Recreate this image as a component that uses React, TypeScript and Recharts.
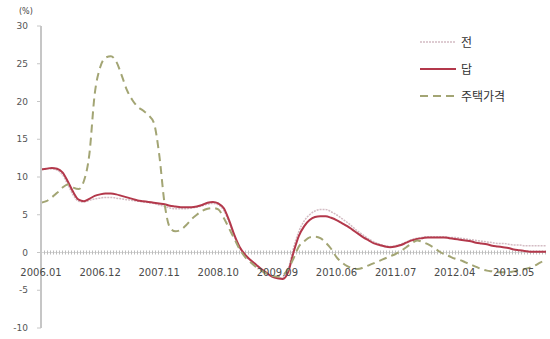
import { LineChart, Line, XAxis, YAxis, ReferenceLine } from 'recharts'

// monthly, 2006.01 .. 2013.11
const DRY_FIELD = [
  11.0, 11.1, 11.1, 10.9, 10.3, 9.0, 7.6, 6.8, 6.7, 6.9, 7.1, 7.2,
  7.3, 7.3, 7.2, 7.1, 7.0, 6.9, 6.8, 6.7, 6.6, 6.5, 6.3, 6.1,
  5.9, 5.8, 5.8, 5.8, 5.9, 6.0, 6.2, 6.4, 6.5, 6.3, 5.6, 4.0,
  2.1, 0.6, -0.4, -1.1, -1.7, -2.3, -2.8, -3.2, -3.4, -3.3, -2.2, 0.6,
  2.8, 4.2, 5.0, 5.5, 5.7, 5.7, 5.4, 5.0, 4.5, 4.0, 3.4, 2.8,
  2.3, 1.8, 1.4, 1.1, 0.9, 0.8, 0.9, 1.1, 1.4, 1.7, 1.9, 2.0,
  2.1, 2.1, 2.1, 2.1, 2.0, 2.0, 1.9, 1.8, 1.7, 1.6, 1.5, 1.4,
  1.3, 1.2, 1.2, 1.1, 1.0, 1.0, 0.9, 0.9, 0.9, 0.9, 0.9,
]

const PADDY = [
  11.0, 11.1, 11.2, 11.1, 10.6, 9.4, 8.0, 7.0, 6.8, 7.1, 7.5, 7.7,
  7.8, 7.8, 7.7, 7.5, 7.3, 7.1, 6.9, 6.8, 6.7, 6.6, 6.5, 6.4,
  6.2, 6.1, 6.0, 6.0, 6.0, 6.1, 6.3, 6.6, 6.7, 6.5, 5.9, 4.3,
  2.3, 0.7, -0.3, -1.0, -1.6, -2.2, -2.7, -3.2, -3.4, -3.5, -2.6, 0.0,
  2.2, 3.5, 4.3, 4.7, 4.8, 4.8, 4.6, 4.3, 3.9, 3.5, 3.0, 2.5,
  2.0, 1.6, 1.2, 1.0, 0.8, 0.7, 0.8, 1.0, 1.3, 1.6, 1.8, 1.9,
  2.0, 2.0, 2.0, 2.0, 1.9, 1.8, 1.7, 1.6, 1.5, 1.3, 1.2, 1.1,
  0.9, 0.8, 0.7, 0.6, 0.4, 0.3, 0.2, 0.1, 0.1, 0.1, 0.1,
]

const HOUSING = [
  6.6, 6.8, 7.3, 7.9, 8.6, 9.0, 8.6, 8.4, 9.5, 13.0, 21.0, 24.5,
  25.8, 26.0, 25.3, 23.5, 21.5, 20.2, 19.3, 18.8, 18.2, 17.2, 13.0, 6.5,
  3.3, 2.8, 3.0, 3.6, 4.4, 5.0, 5.5, 5.8, 5.9, 5.7, 4.6, 3.2,
  1.8, 0.4, -0.6, -1.3, -1.9, -2.4, -2.8, -3.1, -3.2, -3.0, -2.2, -0.8,
  0.8, 1.5, 2.0, 2.1, 1.9, 1.3, 0.5, -0.6, -1.3, -1.8, -2.1, -2.2,
  -2.0, -1.7, -1.4, -1.1, -0.8, -0.5, -0.2, 0.2, 0.7, 1.2, 1.6, 1.4,
  1.1, 0.7, 0.2, -0.2, -0.5, -0.8, -1.0, -1.3, -1.6, -1.9, -2.2, -2.4,
  -2.5, -2.6, -2.6, -2.6, -2.5, -2.4, -2.2, -2.0, -1.7, -1.3, -1.0,
]

const TICK_POS = [0, 11, 22, 33, 44, 55, 66, 77, 88]
const TICK_LABELS = ['2006.01', '2006.12', '2007.11', '2008.10', '2009.09', '2010.06', '2011.07', '2012.04', '2013.05']
const Y_TICKS = [-10, -5, 0, 5, 10, 15, 20, 25, 30]
const Y_MIN = -10
const Y_MAX = 30

const SERIES = [
  { key: 'dry', name: '전', color: '#d3bcc3', width: 1.5, dash: '2 1' },
  { key: 'paddy', name: '답', color: '#b3384b', width: 2, dash: undefined },
  { key: 'house', name: '주택가격', color: '#a3a574', width: 2, dash: '8 5' },
]

const data = DRY_FIELD.map((v, i) => ({ i, dry: v, paddy: PADDY[i], house: HOUSING[i] }))

const W = 550
const H = 339
const MARGIN = { top: 26, right: 4, left: 0, bottom: 10 }
const X_AXIS_H = 1
const PLOT_H = H - MARGIN.top - MARGIN.bottom - X_AXIS_H
// the category labels hang just under the zero line, not at the plot bottom
const ZERO_LIFT = (PLOT_H * (0 - Y_MIN)) / (Y_MAX - Y_MIN)

const FONT = '"DejaVu Sans", Verdana, sans-serif'

function XTick({ x, y, payload }: any) {
  const idx = TICK_POS.indexOf(payload.value)
  if (idx < 0) return null
  return (
    <text x={x} y={y - ZERO_LIFT + 15} textAnchor="middle" fontSize={10} fill="#4a4a4a" fontFamily={FONT}>
      {TICK_LABELS[idx]}
    </text>
  )
}

function LegendBox() {
  return (
    <div
      style={{
        position: 'absolute',
        left: 420,
        top: 28,
        fontFamily: '"Noto Sans CJK KR", sans-serif',
        fontSize: 12,
        color: '#333',
      }}
    >
      {SERIES.map((s) => (
        <div key={s.key} style={{ display: 'flex', alignItems: 'center', height: 27 }}>
          <svg width={38} height={6} style={{ marginRight: 3 }}>
            <line x1={0} y1={3} x2={36} y2={3} stroke={s.color} strokeWidth={s.width} strokeDasharray={s.dash} />
          </svg>
          <span>{s.name}</span>
        </div>
      ))}
    </div>
  )
}

export default function App() {
  return (
    <div style={{ position: 'absolute', left: 0, top: 0, width: W, height: H, background: '#fff' }}>
      <span style={{ position: 'absolute', left: 19, top: 7, fontSize: 8, fontFamily: FONT, color: '#444' }}>(%)</span>
      <LineChart width={W} height={H} data={data} margin={MARGIN}>
        <XAxis
          dataKey="i"
          type="number"
          domain={[0, DRY_FIELD.length - 1]}
          ticks={TICK_POS}
          height={X_AXIS_H}
          axisLine={false}
          tickLine={false}
          tick={<XTick />}
          interval={0}
        />
        <YAxis
          domain={[Y_MIN, Y_MAX]}
          ticks={Y_TICKS}
          width={41}
          axisLine={{ stroke: '#c6c6c6', strokeWidth: 2 }}
          tickLine={{ stroke: '#c6c6c6' }}
          tickSize={4}
          tickMargin={9}
          tick={{ fontSize: 9, fill: '#555', fontFamily: FONT }}
        />
        <ReferenceLine y={0} stroke="#d6d6d6" strokeWidth={1} />
        <ReferenceLine y={0} stroke="#bdbdbd" strokeWidth={4} strokeDasharray="1 2" />
        {SERIES.map((s) => (
          <Line
            key={s.key}
            dataKey={s.key}
            name={s.name}
            type="monotone"
            stroke={s.color}
            strokeWidth={s.width}
            strokeDasharray={s.dash}
            dot={false}
            isAnimationActive={false}
          />
        ))}
      </LineChart>
      <LegendBox />
    </div>
  )
}
